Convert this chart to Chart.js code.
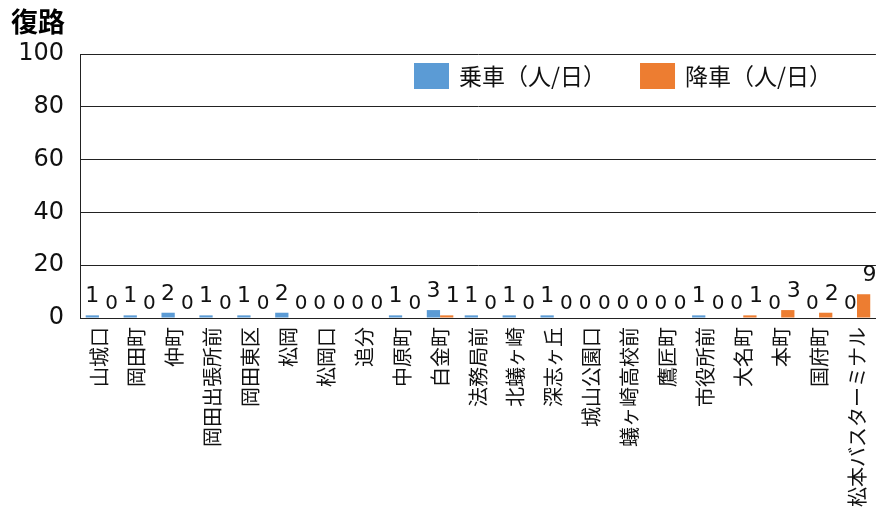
<!DOCTYPE html>
<html>
<head>
<meta charset="utf-8">
<script src="https://cdn.jsdelivr.net/npm/chart.js@4/dist/chart.umd.min.js"></script>
<style>
  html, body { margin: 0; padding: 0; background: #fff; }
  #wrap { width: 890px; height: 509px; }
</style>
</head>
<body>
<div id="wrap"><canvas id="chart" width="890" height="509"></canvas></div>
<script>
// 停留所ごとの乗降人数（復路）
const stations = [
  "山城口", "岡田町", "仲町", "岡田出張所前", "岡田東区", "松岡", "松岡口", "追分",
  "中原町", "白金町", "法務局前", "北蟻ヶ崎", "深志ヶ丘", "城山公園口", "蟻ヶ崎高校前",
  "鷹匠町", "市役所前", "大名町", "本町", "国府町", "松本バスターミナル"
];
const boarding  = [1, 1, 2, 1, 1, 2, 0, 0, 1, 3, 1, 1, 1, 0, 0, 0, 1, 0, 0, 0, 0];
const alighting = [0, 0, 0, 0, 0, 0, 0, 0, 0, 1, 0, 0, 0, 0, 0, 0, 0, 1, 3, 2, 9];
const seriesNames = ["乗車（人/日）", "降車（人/日）"];
const yMax = 100;
const yStep = 20;

const BLUE = "#5B9BD5";
const ORANGE = "#ED7D31";
const NUM_FONT = "'DejaVu Sans', 'Noto Sans CJK JP', sans-serif";
const JP_FONT = "'Noto Sans CJK JP', sans-serif";

// 棒の上に値を書く（0 は少し小さめ）
const valueLabels = {
  id: "valueLabels",
  afterDatasetsDraw(chart) {
    const ctx = chart.ctx;
    ctx.save();
    ctx.fillStyle = "#111";
    ctx.textAlign = "center";
    ctx.textBaseline = "alphabetic";
    chart.data.datasets.forEach((ds, i) => {
      const shift = i === 1 ? 6 : 0;
      chart.getDatasetMeta(i).data.forEach((bar, j) => {
        const v = ds.data[j];
        const txt = String(v);
        ctx.font = (v === 0 ? "20px " : "22px ") + NUM_FONT;
        const half = ctx.measureText(txt).width / 2;
        const x = Math.min(bar.x + shift, chart.width - half - 4);
        ctx.fillText(txt, x, bar.y - (v === 0 ? 9 : 13));
      });
    });
    ctx.restore();
  }
};

// タイトルと凡例（グラフ内右上）
const titleAndLegend = {
  id: "titleAndLegend",
  afterDraw(chart) {
    const ctx = chart.ctx;
    const area = chart.chartArea;
    ctx.save();
    ctx.fillStyle = "#000";
    ctx.font = "bold 27px " + JP_FONT;
    ctx.textAlign = "left";
    ctx.textBaseline = "middle";
    ctx.fillText("復路", 11, 22);

    ctx.font = "23px " + JP_FONT;
    let x = area.left + 334;
    const y = area.top + 9;
    chart.data.datasets.forEach(ds => {
      ctx.fillStyle = ds.backgroundColor;
      ctx.fillRect(x, y, 35, 26);
      x += 35 + 10;
      ctx.fillStyle = "#111";
      ctx.fillText(ds.label, x, y + 13);
      x += ctx.measureText(ds.label).width + 34;
    });
    ctx.restore();
  }
};

new Chart(document.getElementById("chart"), {
  type: "bar",
  data: {
    labels: stations,
    datasets: [
      { label: seriesNames[0], data: boarding, backgroundColor: BLUE },
      { label: seriesNames[1], data: alighting, backgroundColor: ORANGE }
    ]
  },
  options: {
    responsive: false,
    animation: false,
    layout: { padding: { top: 54, right: 1, left: 0, bottom: 0 } },
    datasets: { bar: { categoryPercentage: 0.7, barPercentage: 1 } },
    plugins: {
      legend: { display: false },
      tooltip: { enabled: false }
    },
    scales: {
      x: {
        grid: { display: false, drawTicks: false },
        border: { display: true, color: "#222", width: 1 },
        ticks: {
          autoSkip: false,
          maxRotation: 90,
          minRotation: 90,
          padding: 9,
          color: "#111",
          font: { family: JP_FONT, size: 20 }
        },
        afterFit(scale) { scale.height = 191; }
      },
      y: {
        min: 0,
        max: yMax,
        grid: { color: "#222", drawTicks: false },
        border: { display: true, color: "#222", width: 1 },
        ticks: {
          stepSize: yStep,
          padding: 16,
          color: "#111",
          font: { family: NUM_FONT, size: 24 }
        },
        afterFit(scale) { scale.width = 80; }
      }
    }
  },
  plugins: [valueLabels, titleAndLegend]
});
</script>
</body>
</html>
